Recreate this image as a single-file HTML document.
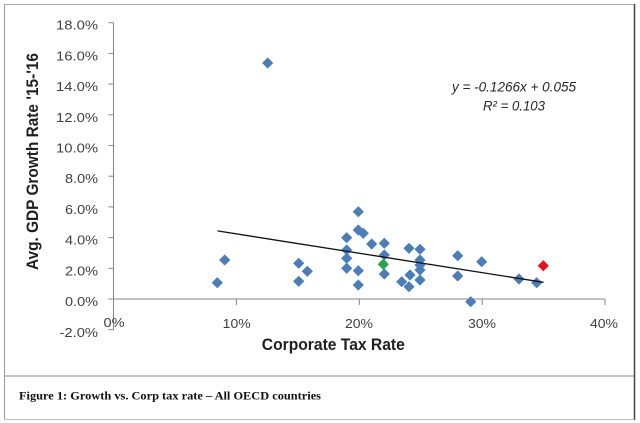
<!DOCTYPE html>
<html>
<head>
<meta charset="utf-8">
<style>
  html, body { margin:0; padding:0; background:#fff; }
  svg { display:block; }
</style>
</head>
<body>
<svg width="640" height="423" viewBox="0 0 640 423" xmlns="http://www.w3.org/2000/svg">
  <defs>
    <path id="dm" d="M0,-5.6 L5.6,0 L0,5.6 L-5.6,0 Z"/>
  </defs>
  <rect x="0" y="0" width="640" height="423" fill="#fff"/>
  <!-- frame -->
  <line x1="4" y1="4.5" x2="634" y2="4.5" stroke="#aaa" stroke-width="1"/>
  <line x1="4.5" y1="4" x2="4.5" y2="419" stroke="#999" stroke-width="1"/>
  <line x1="634.5" y1="4" x2="634.5" y2="420" stroke="#444" stroke-width="1.5"/>
  <line x1="4" y1="419.5" x2="634" y2="419.5" stroke="#bbb" stroke-width="1"/>
  <line x1="4" y1="376" x2="634" y2="376" stroke="#888" stroke-width="1"/>

  <!-- axes -->
  <g stroke="#868686" stroke-width="1" fill="none">
    <line x1="113.5" y1="22.7" x2="113.5" y2="329.7"/>
    <line x1="113.5" y1="299" x2="605" y2="299"/>
    <!-- y ticks -->
    <line x1="108.5" y1="22.7" x2="113.5" y2="22.7"/>
    <line x1="108.5" y1="53.4" x2="113.5" y2="53.4"/>
    <line x1="108.5" y1="84.1" x2="113.5" y2="84.1"/>
    <line x1="108.5" y1="114.8" x2="113.5" y2="114.8"/>
    <line x1="108.5" y1="145.5" x2="113.5" y2="145.5"/>
    <line x1="108.5" y1="176.2" x2="113.5" y2="176.2"/>
    <line x1="108.5" y1="206.9" x2="113.5" y2="206.9"/>
    <line x1="108.5" y1="237.6" x2="113.5" y2="237.6"/>
    <line x1="108.5" y1="268.3" x2="113.5" y2="268.3"/>
    <line x1="108.5" y1="299" x2="113.5" y2="299"/>
    <line x1="108.5" y1="329.7" x2="113.5" y2="329.7"/>
    <!-- x ticks -->
    <line x1="236.4" y1="299" x2="236.4" y2="305"/>
    <line x1="359.3" y1="299" x2="359.3" y2="305"/>
    <line x1="482.2" y1="299" x2="482.2" y2="305"/>
    <line x1="605" y1="299" x2="605" y2="305"/>
  </g>

  <!-- y tick labels -->
  <g font-family="Liberation Sans, Arial, sans-serif" font-size="13" fill="#404040" text-anchor="end">
    <text x="98" y="29.7" textLength="42" lengthAdjust="spacingAndGlyphs">18.0%</text>
    <text x="98" y="60.4" textLength="42" lengthAdjust="spacingAndGlyphs">16.0%</text>
    <text x="98" y="91.1" textLength="42" lengthAdjust="spacingAndGlyphs">14.0%</text>
    <text x="98" y="121.8" textLength="42" lengthAdjust="spacingAndGlyphs">12.0%</text>
    <text x="98" y="152.5" textLength="42" lengthAdjust="spacingAndGlyphs">10.0%</text>
    <text x="98" y="183.2" textLength="33" lengthAdjust="spacingAndGlyphs">8.0%</text>
    <text x="98" y="213.9" textLength="33" lengthAdjust="spacingAndGlyphs">6.0%</text>
    <text x="98" y="244.6" textLength="33" lengthAdjust="spacingAndGlyphs">4.0%</text>
    <text x="98" y="275.3" textLength="33" lengthAdjust="spacingAndGlyphs">2.0%</text>
    <text x="98" y="306" textLength="33" lengthAdjust="spacingAndGlyphs">0.0%</text>
    <text x="98" y="337" textLength="38.5" lengthAdjust="spacingAndGlyphs">-2.0%</text>
  </g>

  <!-- x tick labels -->
  <g font-family="Liberation Sans, Arial, sans-serif" font-size="13" fill="#404040" text-anchor="middle">
    <text x="114" y="327" textLength="21" lengthAdjust="spacingAndGlyphs">0%</text>
    <text x="236.7" y="328" textLength="28" lengthAdjust="spacingAndGlyphs">10%</text>
    <text x="359" y="328" textLength="28" lengthAdjust="spacingAndGlyphs">20%</text>
    <text x="482" y="328" textLength="28" lengthAdjust="spacingAndGlyphs">30%</text>
    <text x="604" y="328" textLength="28" lengthAdjust="spacingAndGlyphs">40%</text>
  </g>

  <!-- axis titles -->
  <text x="333.3" y="350" font-family="Liberation Sans, Arial, sans-serif" font-size="17" font-weight="bold" fill="#1f1f1f" text-anchor="middle" textLength="143" lengthAdjust="spacingAndGlyphs">Corporate Tax Rate</text>
  <text transform="translate(38,161.5) rotate(-90)" x="0" y="0" font-family="Liberation Sans, Arial, sans-serif" font-size="17" font-weight="bold" fill="#1f1f1f" text-anchor="middle" textLength="217" lengthAdjust="spacingAndGlyphs">Avg. GDP Growth Rate '15-'16</text>

  <!-- data points -->
  <g fill="#4A7EBB">
    <use href="#dm" x="217.3" y="282.7"/>
    <use href="#dm" x="224.7" y="260"/>
    <use href="#dm" x="298.7" y="263.3"/>
    <use href="#dm" x="307.3" y="271.3"/>
    <use href="#dm" x="298.7" y="281.3"/>
    <use href="#dm" x="267.7" y="63"/>
    <use href="#dm" x="358.3" y="211.7"/>
    <use href="#dm" x="358.3" y="230"/>
    <use href="#dm" x="363.3" y="233.3"/>
    <use href="#dm" x="346.7" y="237.7"/>
    <use href="#dm" x="371.7" y="244"/>
    <use href="#dm" x="384.3" y="243.3"/>
    <use href="#dm" x="346.7" y="250"/>
    <use href="#dm" x="346.7" y="258.3"/>
    <use href="#dm" x="384.3" y="255"/>
    <use href="#dm" x="346.7" y="268.3"/>
    <use href="#dm" x="358.3" y="270.7"/>
    <use href="#dm" x="384.3" y="274"/>
    <use href="#dm" x="358.3" y="285"/>
    <use href="#dm" x="409" y="248.3"/>
    <use href="#dm" x="420" y="249.3"/>
    <use href="#dm" x="420" y="260"/>
    <use href="#dm" x="420" y="265"/>
    <use href="#dm" x="420" y="270"/>
    <use href="#dm" x="410" y="275"/>
    <use href="#dm" x="420" y="280"/>
    <use href="#dm" x="401.7" y="281.7"/>
    <use href="#dm" x="409" y="286.7"/>
    <use href="#dm" x="457.7" y="255.7"/>
    <use href="#dm" x="457.7" y="276"/>
    <use href="#dm" x="481.7" y="261.7"/>
    <use href="#dm" x="470.7" y="301.7"/>
    <use href="#dm" x="519" y="279"/>
    <use href="#dm" x="536.7" y="282.7"/>
  </g>
  <use href="#dm" x="383.3" y="264.3" fill="#22A84A"/>
  <use href="#dm" x="543.3" y="265.7" fill="#E8101A"/>

  <!-- trendline -->
  <line x1="217.5" y1="230.9" x2="543.5" y2="282.3" stroke="#111" stroke-width="1.3"/>

  <!-- equation -->
  <g font-family="Liberation Sans, Arial, sans-serif" font-size="13.5" font-style="italic" fill="#262626">
    <text x="452" y="91.5" textLength="124" lengthAdjust="spacingAndGlyphs">y = -0.1266x + 0.055</text>
    <text x="483" y="110.5" textLength="62" lengthAdjust="spacingAndGlyphs">R² = 0.103</text>
  </g>

  <!-- caption -->
  <text x="19" y="399.5" font-family="Liberation Serif, Times New Roman, serif" font-size="12" font-weight="bold" fill="#111" textLength="302" lengthAdjust="spacingAndGlyphs">Figure 1: Growth vs. Corp tax rate – All OECD countries</text>
</svg>
</body>
</html>
